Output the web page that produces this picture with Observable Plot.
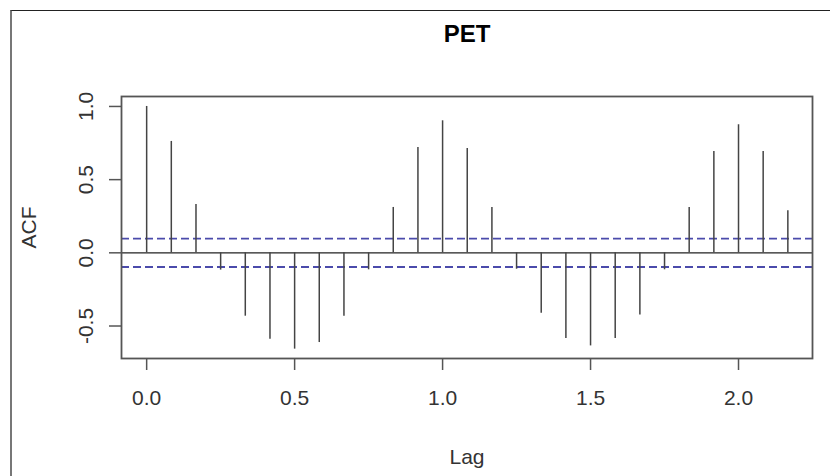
<!DOCTYPE html>
<html><head><meta charset="utf-8">
<script src="https://cdn.jsdelivr.net/npm/d3@7"></script>
<script src="https://cdn.jsdelivr.net/npm/@observablehq/plot@0.6"></script>
<style>
html,body{margin:0;padding:0;background:#fff;width:830px;height:476px;overflow:hidden;}
#chart{position:absolute;left:0;top:0;}
#border{position:absolute;left:10px;top:10px;right:0;bottom:0;border-top:1.5px solid #222;border-left:2px solid #777;pointer-events:none;}
</style></head><body>
<div id="chart"></div><div id="border"></div>
<script>
const title = "PET";
const xLabel = "Lag";
const yLabel = "ACF";
const lags = [0, 0.0833, 0.1667, 0.25, 0.3333, 0.4167, 0.5, 0.5833, 0.6667, 0.75, 0.8333, 0.9167, 1.0,
              1.0833, 1.1667, 1.25, 1.3333, 1.4167, 1.5, 1.5833, 1.6667, 1.75, 1.8333, 1.9167, 2.0, 2.0833, 2.1667];
const acf = [1.000, 0.761, 0.330, -0.118, -0.433, -0.590, -0.658, -0.613, -0.433, -0.116, 0.310, 0.720, 0.902,
             0.713, 0.310, -0.112, -0.412, -0.586, -0.636, -0.586, -0.424, -0.116, 0.310, 0.693, 0.875, 0.693, 0.287];
const ciBound = 0.097;
const xTicks = [0, 0.5, 1, 1.5, 2];
const yTicks = [-0.5, 0, 0.5, 1];
const xDomain = [-0.085, 2.25];
const yDomain = [-0.722, 1.068];

const data = lags.map((lag, i) => ({lag, acf: acf[i]}));
const ci = [ciBound, -ciBound];
const fmt = d => d.toFixed(1);

const chart = Plot.plot({
  width: 830, height: 476,
  marginLeft: 121, marginRight: 18, marginTop: 96, marginBottom: 118,
  style: {fontFamily: "'Liberation Sans', Arial, sans-serif", fontSize: "21px", color: "#333", background: "transparent"},
  x: {domain: xDomain},
  y: {domain: yDomain},
  marks: [
    Plot.ruleY([0], {stroke: "#222", strokeWidth: 1.2}),
    Plot.ruleY(ci, {stroke: "#4b4bab", strokeWidth: 1.8, strokeDasharray: "8,4"}),
    Plot.ruleX(data, {x: "lag", y1: 0, y2: "acf", stroke: "#444", strokeWidth: 1.5}),
    Plot.frame({stroke: "#555", strokeWidth: 1.8}),
    Plot.axisX({ticks: xTicks, tickFormat: fmt, tickSize: 12, tickPadding: 20, stroke: "#555", strokeWidth: 1.5, fill: "#333",
                label: xLabel, labelAnchor: "center", labelOffset: 105, labelArrow: "none"}),
    Plot.axisY({ticks: yTicks, tickFormat: fmt, tickSize: 12, tickPadding: 17, tickRotate: -90, stroke: "#555", strokeWidth: 1.5, fill: "#333",
                label: yLabel, labelAnchor: "center", labelOffset: 100, labelArrow: "none"}),
    Plot.text([title], {frameAnchor: "top", lineAnchor: "middle", dy: -62, fontSize: 24, fontWeight: "bold", fill: "#000"})
  ]
});
document.getElementById("chart").appendChild(chart);
</script>
</body></html>
